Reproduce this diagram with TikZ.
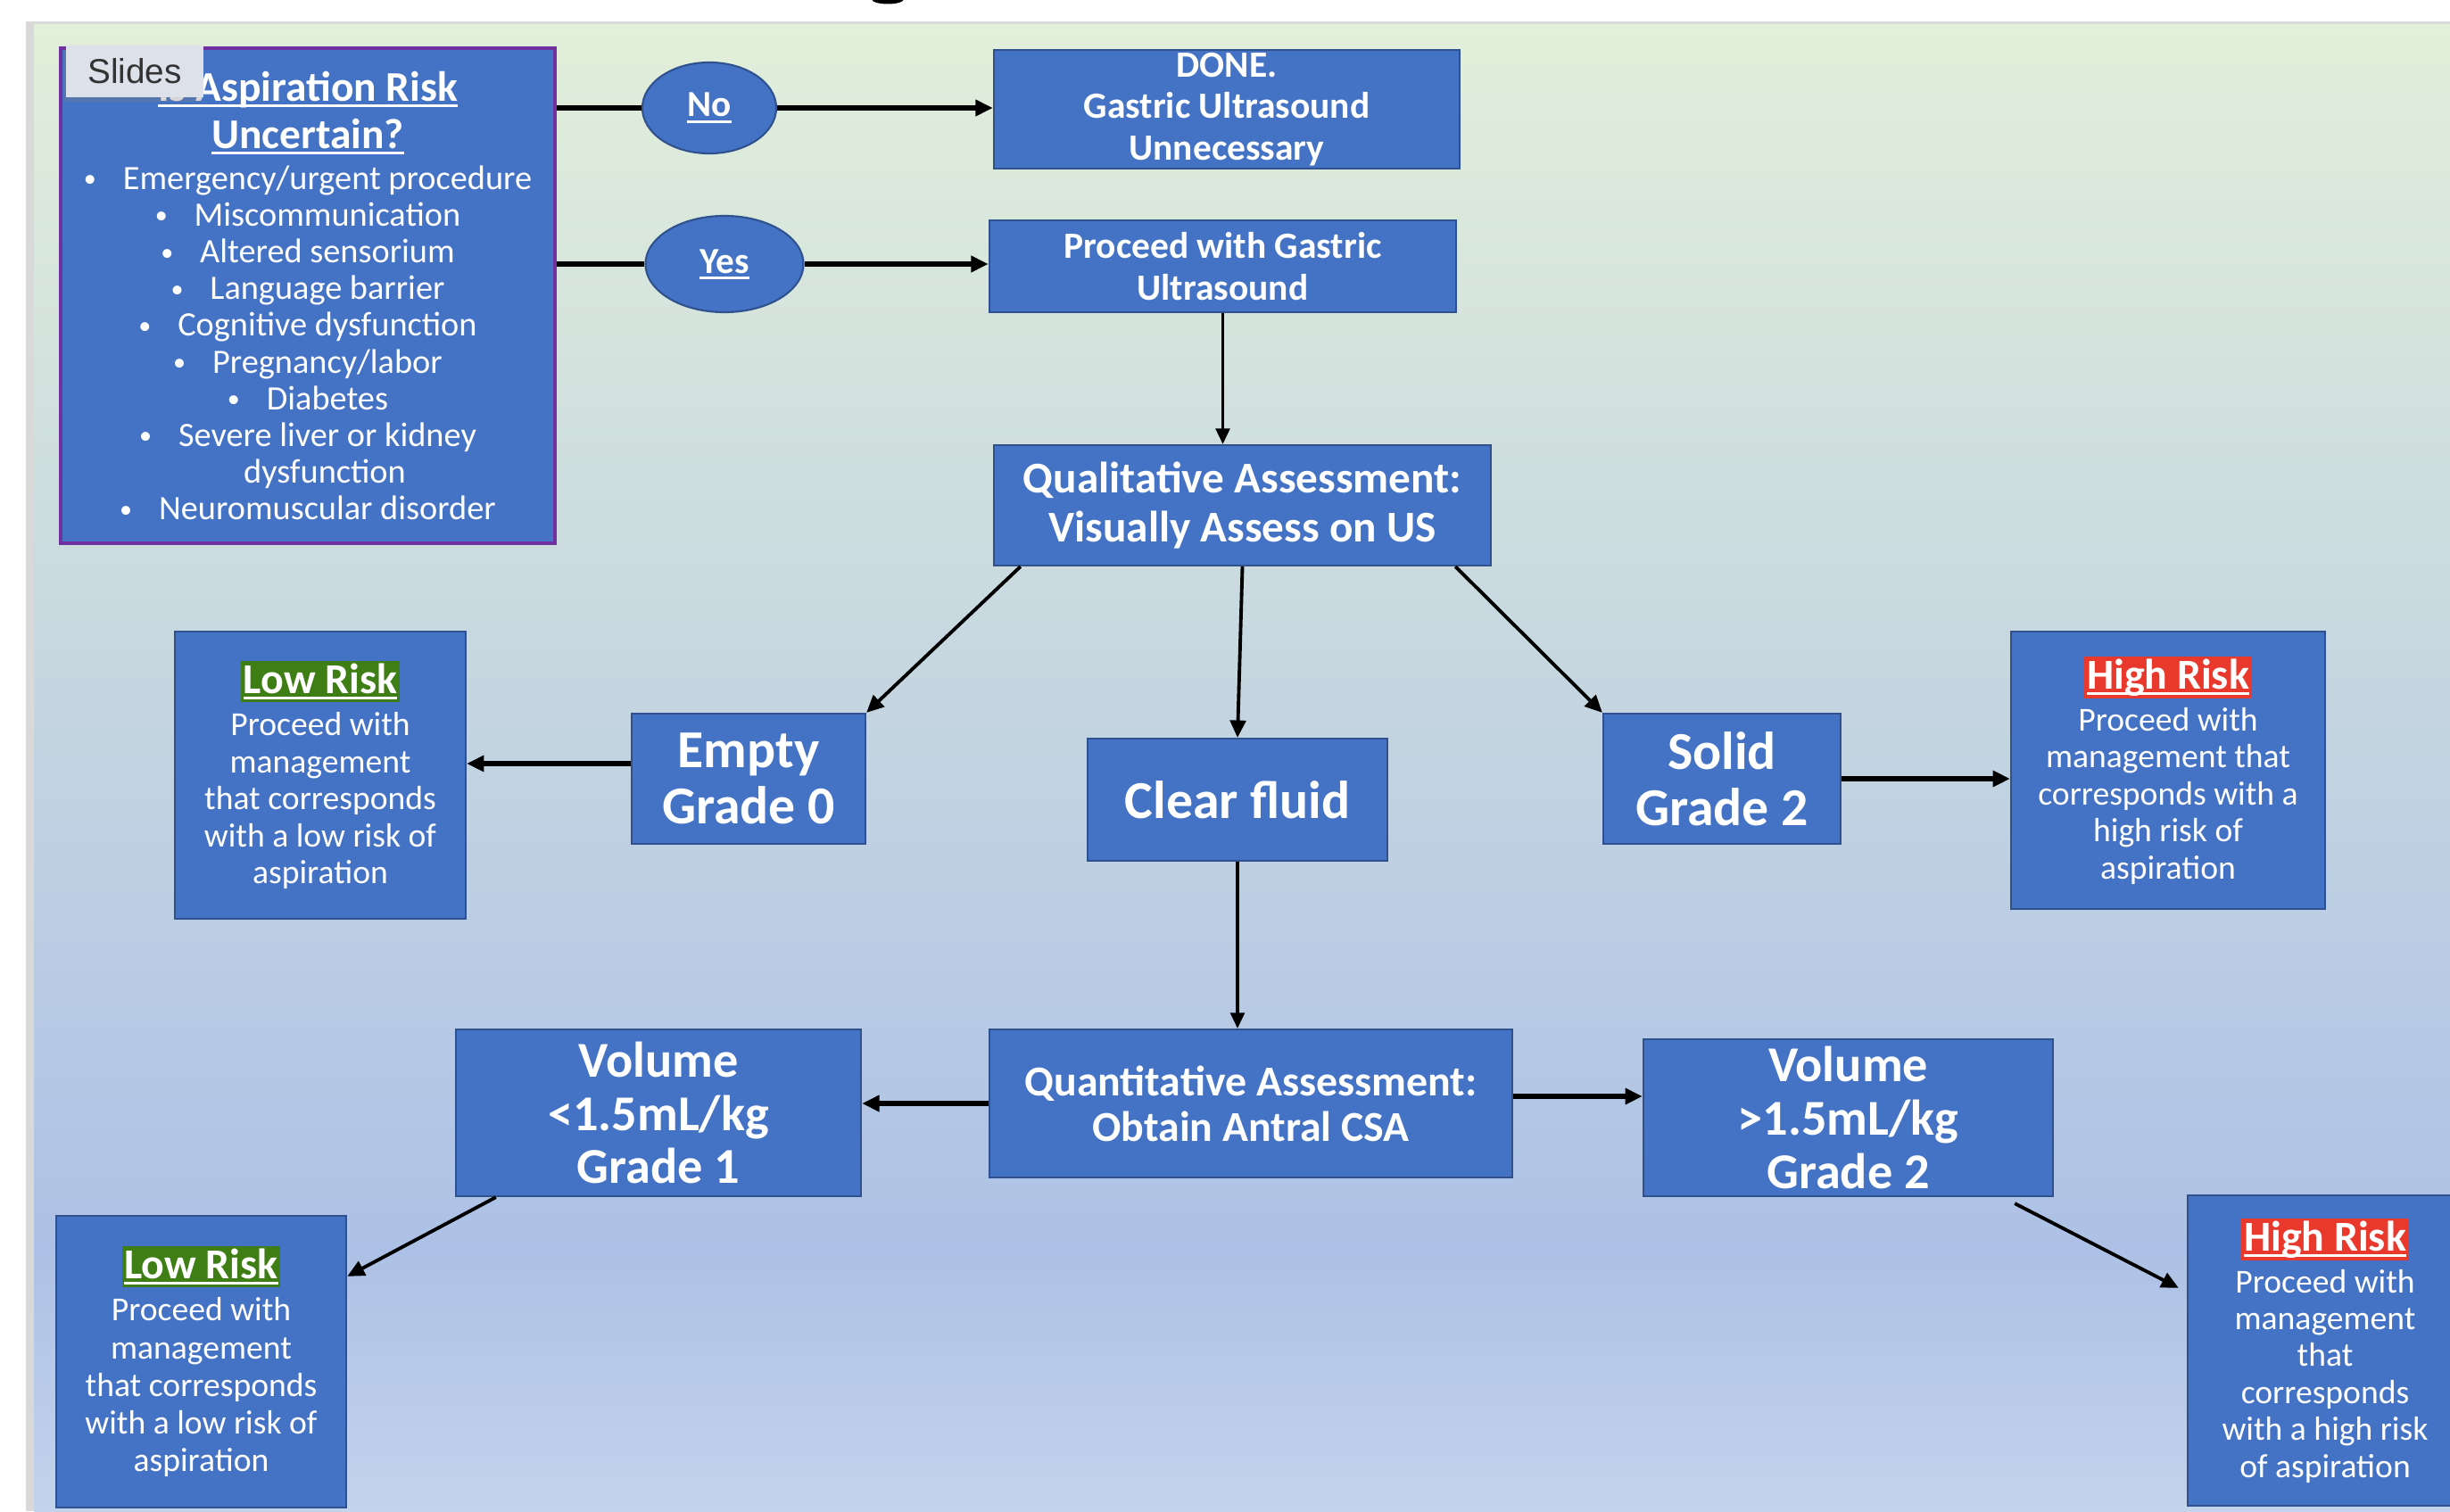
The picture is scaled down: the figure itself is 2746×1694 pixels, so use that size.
\documentclass[tikz,border=0pt]{standalone}
\usepackage{fontspec}
\setmainfont{Carlito}
\newfontfamily\slidesfont{Liberation Sans}
\usetikzlibrary{shapes.geometric,arrows.meta,calc,shadows}
\definecolor{boxblue}{HTML}{4472C4}
\definecolor{boxborder}{HTML}{2F528F}
\definecolor{riskpurple}{HTML}{7030A0}
\definecolor{lowgreen}{HTML}{3E7E14}
\definecolor{highred}{HTML}{E8392C}
\definecolor{bgtop}{HTML}{E2EFDA}
\definecolor{bgmid}{HTML}{ADC1E6}
\definecolor{bgbot}{HTML}{C4D3EC}
\definecolor{edgegray}{HTML}{D9D9D9}
\definecolor{tabgray}{HTML}{DDE1E9}
\definecolor{tabtext}{HTML}{333333}
\newcommand\myul[1]{\setbox0\hbox{#1}\leavevmode\rlap{\rule[-1.9pt]{\wd0}{0.85pt}}\box0}
\newcommand\hlt[2]{{\setlength\fboxsep{0.8pt}\colorbox{#1}{\myul{#2}}}}
\newcommand\bul{\raisebox{0.7pt}{\fontsize{8}{8}\selectfont\textbullet}\hspace{8.5pt}}
\tikzset{
  box/.style={rectangle, fill=boxblue, draw=boxborder, line width=0.6pt, inner sep=0pt, align=center, text=white},
  ov/.style={ellipse, fill=boxblue, draw=boxborder, line width=0.6pt, inner sep=0pt, text=white, align=center},
  con/.style={line width=1.5pt, draw=black},
  arr/.style={con, -{Triangle[length=5.5pt,width=5pt]}},
  tarr/.style={line width=1.1pt, draw=black, -{Triangle[length=5.5pt,width=5pt]}},
  varr/.style={line width=0.9pt, draw=black, -{Triangle[length=5pt,width=4.5pt]}},
  fbig/.style={font=\fontsize{17}{18}\selectfont\bfseries},
  fvol/.style={font=\fontsize{16}{17}\selectfont\bfseries},
  fqual/.style={font=\fontsize{14}{15.4}\selectfont\bfseries},
  fquant/.style={font=\fontsize{13.6}{14.5}\selectfont\bfseries},
  fsmall/.style={font=\fontsize{11.8}{13.2}\selectfont\bfseries},
  frisk/.style={font=\fontsize{10.7}{11.8}\selectfont},
  frisktwo/.style={font=\fontsize{10.7}{12}\selectfont},
  friskthree/.style={font=\fontsize{10.7}{11.76}\selectfont},
  fbul/.style={font=\fontsize{10.9}{11.7}\selectfont},
  fyn/.style={font=\fontsize{11.7}{13}\selectfont\bfseries},
}
\newcommand\risktitle[2]{{\fontsize{13.6}{14}\selectfont\bfseries\hlt{#1}{#2}}}
\newcommand\bigtitle[1]{{\fontsize{13.5}{15}\selectfont\bfseries\myul{#1}}}
\begin{document}
\begin{tikzpicture}[x=0.01cm,y=-0.01cm]
\lineskiplimit=-20pt
\useasboundingbox (0,0) rectangle (2746,1694);
% background
\fill[white] (0,0) rectangle (2746,1694);
\fill[edgegray] (29,24) rectangle (2746,1694);
\shade[top color=bgtop, bottom color=bgmid] (38,28) rectangle (2746,1400);
\shade[top color=bgmid, bottom color=bgbot] (38,1399) rectangle (2746,1694);
\fill[black] (995,-1) ellipse [x radius=0.18cm, y radius=0.055cm];

% nodes
\node[box, draw=riskpurple, line width=1.2pt, fbul, minimum width=5.54cm, minimum height=5.55cm] (risk) at (345,331.5)
{\bigtitle{Is Aspiration Risk}\\[3.3pt]
 \bigtitle{Uncertain?}\\[1.4pt]
 \bul Emergency/urgent procedure\\
 \bul Miscommunication\\
 \bul Altered sensorium\\
 \bul Language barrier\\
 \bul Cognitive dysfunction\\
 \bul Pregnancy/labor\\
 \bul Diabetes\\
 \bul Severe liver or kidney\\
 \hspace*{10.8pt}dysfunction\\
 \bul Neuromuscular disorder};

\node[rectangle, fill=tabgray, inner sep=0pt, minimum width=1.54cm, minimum height=0.58cm,
      drop shadow={shadow xshift=-0.5pt, shadow yshift=-1.5pt, opacity=0.3},
      font=\slidesfont\fontsize{11}{13}\selectfont, text=tabtext] (tab) at (151,80) {Slides};

\node[ov, fyn, minimum width=1.50cm, minimum height=1.02cm] (no) at (795,121) {\myul{No}};
\node[ov, fyn, minimum width=1.77cm, minimum height=1.08cm] (yes) at (812,296) {\myul{Yes}};

\node[box, fsmall, minimum width=5.22cm, minimum height=1.33cm] (done) at (1375,122.5)
{DONE.\\Gastric Ultrasound\\Unnecessary};
\node[box, fsmall, minimum width=5.23cm, minimum height=1.03cm] (proceed) at (1370.5,298.5)
{Proceed with Gastric\\Ultrasound};

\node[box, fqual, minimum width=5.57cm, minimum height=1.35cm] (qual) at (1392.5,566.5)
{Qualitative Assessment:\\Visually Assess on US};

\node[box, fbig, minimum width=2.62cm, minimum height=1.46cm] (empty) at (839,873) {Empty\\Grade 0};
\node[box, fbig, minimum width=3.36cm, minimum height=1.37cm] (clear) at (1387,896.5) {Clear fluid};
\node[box, fbig, minimum width=2.66cm, minimum height=1.46cm] (solid) at (1930,873) {Solid\\Grade 2};

\node[box, frisk, minimum width=3.26cm, minimum height=3.22cm] (low1) at (359,869)
{\risktitle{lowgreen}{Low Risk}\\[1.6pt]
 Proceed with\\management\\that corresponds\\with a low risk of\\aspiration};
\node[box, frisk, minimum width=3.52cm, minimum height=3.11cm] (high1) at (2430,863.5)
{\risktitle{highred}{High Risk}\\[1.6pt]
 Proceed with\\management that\\corresponds with a\\high risk of\\aspiration};

\node[box, fquant, minimum width=5.86cm, minimum height=1.66cm] (quant) at (1402,1237)
{Quantitative Assessment:\\Obtain Antral CSA};
\node[box, fvol, minimum width=4.54cm, minimum height=1.87cm] (vol1) at (738,1247.5)
{Volume\\<1.5mL/kg\\Grade 1};
\node[box, fvol, minimum width=4.59cm, minimum height=1.76cm] (vol2) at (2071.5,1253)
{Volume\\>1.5mL/kg\\Grade 2};

\node[box, frisktwo, minimum width=3.25cm, minimum height=3.27cm] (low2) at (225.5,1526.5)
{\risktitle{lowgreen}{Low Risk}\\[1.4pt]
 Proceed with\\management\\that corresponds\\with a low risk of\\aspiration};
\node[box, friskthree, minimum width=3.08cm, minimum height=3.48cm] (high2) at (2606,1514)
{\risktitle{highred}{High Risk}\\[1.6pt]
 Proceed with\\management\\that\\corresponds\\with a high risk\\of aspiration};

% connectors
\draw[con] (risk.east |- no.west) -- (no.west);
\draw[arr] (no.east) -- (no.east -| done.west);
\draw[con] (risk.east |- yes.west) -- (yes.west);
\draw[arr] (yes.east) -- (yes.east -| proceed.west);
\draw[varr] (proceed.south) -- (proceed.south |- qual.north);

\draw[tarr] ($(qual.south west)+(31,0)$) -- (empty.north east);
\draw[tarr] (qual.south) -- (clear.north);
\draw[tarr] ($(qual.south east)+(-41,0)$) -- (solid.north west);

\coordinate (e1) at ($(empty.west)+(0,-17)$);
\draw[arr] (e1) -- (e1 -| low1.east);
\draw[arr] (solid.east) -- (solid.east -| high1.west);

\draw[varr] (clear.south) -- (clear.south |- quant.north);
\draw[arr] (quant.west) -- (quant.west -| vol1.east);
\coordinate (q2) at ($(quant.east)+(0,-8)$);
\draw[arr] (q2) -- (q2 -| vol2.west);

\draw[tarr] ($(vol1.south west)+(46,0)$) -- ($(low2.north east)+(0,69)$);
\draw[tarr] ($(vol2.south east)+(-44,7)$) -- ($(high2.north west)+(-9,105)$);
\end{tikzpicture}
\end{document}
